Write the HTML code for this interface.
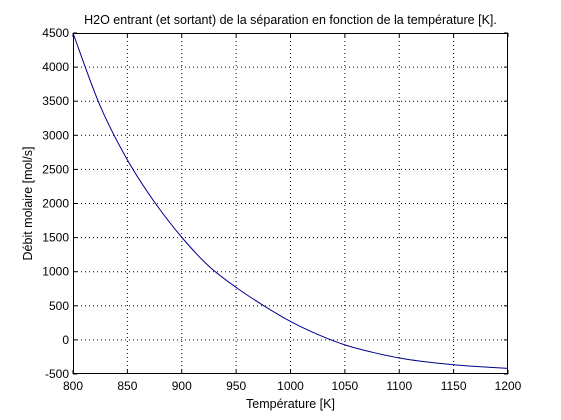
<!DOCTYPE html>
<html><head><meta charset="utf-8"><style>
body{margin:0;background:#fff;}
svg{display:block;font-family:"Liberation Sans",sans-serif;}
</style></head><body>
<svg id="chart" width="561" height="420">
<rect x="0" y="0" width="561" height="420" fill="#fff"/>
</svg>
<script>
const temps=[800,825,850,875,900,925,950,975,1000,1025,1050,1075,1100,1125,1150,1175,1200];
const flow=[4500,3430,2640,2020,1505,1080,770,505,270,80,-73,-180,-265,-322,-364,-394,-417];
const xTicks=[800,850,900,950,1000,1050,1100,1150,1200];
const yTicks=[-500,0,500,1000,1500,2000,2500,3000,3500,4000,4500];
const L=73,R=508,T=33,B=374;
const xs=v=>L+(v-800)/400*(R-L);
const ys=v=>B-(v+500)/5000*(B-T);
const svg=document.getElementById('chart');
const NS='http://www.w3.org/2000/svg';
function mk(t,a,txt){const e=document.createElementNS(NS,t);for(const k in a)e.setAttribute(k,a[k]);if(txt!==undefined)e.textContent=txt;svg.appendChild(e);return e;}
const bg=mk('rect',{x:L,y:T,width:R-L,height:B-T,fill:'#fff'});


xTicks.forEach(v=>{const x=xs(v);
 if(v>800&&v<1200){const g=mk('line',{x1:x,x2:x,y1:T,y2:B,stroke:'#000','stroke-width':1,'stroke-dasharray':'1,3'});
 
 }
 mk('line',{x1:x,x2:x,y1:B,y2:B-4,stroke:'#000'});mk('line',{x1:x,x2:x,y1:T,y2:T+4,stroke:'#000'});
 const t=mk('text',{x:x,y:B+16,'text-anchor':'middle','font-size':12},v);
 
 
});
yTicks.forEach(v=>{const y=ys(v);
 if(v>-500&&v<4500){const g=mk('line',{x1:L,x2:R,y1:y,y2:y,stroke:'#000','stroke-width':1,'stroke-dasharray':'1,3'});
 
 }
 mk('line',{x1:L,x2:L+4,y1:y,y2:y,stroke:'#000'});mk('line',{x1:R,x2:R-4,y1:y,y2:y,stroke:'#000'});
 const t=mk('text',{x:L-4,y:y+4,'text-anchor':'end','font-size':12},v);
 
 
});
const box=mk('rect',{x:L+0.5,y:T+0.5,width:R-L-1,height:B-T-1,fill:'none',stroke:'#000'});


const P=temps.map((t,i)=>[xs(t),ys(flow[i])]);
let d='M'+P[0][0]+','+P[0][1];
for(let i=0;i<P.length-1;i++){const p0=P[Math.max(0,i-1)],p1=P[i],p2=P[i+1],p3=P[Math.min(P.length-1,i+2)];
 d+=' C'+(p1[0]+(p2[0]-p0[0])/6)+','+(p1[1]+(p2[1]-p0[1])/6)+' '+(p2[0]-(p3[0]-p1[0])/6)+','+(p2[1]-(p3[1]-p1[1])/6)+' '+p2[0]+','+p2[1];}
const line=mk('path',{d:d,fill:'none',stroke:'#00008b','stroke-width':1});


const ti=mk('text',{x:(L+R)/2,y:24,'text-anchor':'middle','font-size':12.5},'H2O entrant (et sortant) de la séparation en fonction de la température [K].');


const xl=mk('text',{x:(L+R)/2,y:408,'text-anchor':'middle','font-size':12.5},'Température [K]');


const yl=mk('text',{x:0,y:0,'text-anchor':'middle','font-size':12.5,transform:'translate(32,'+((T+B)/2)+') rotate(-90)'},'Débit molaire [mol/s]');


</script>
</body></html>
